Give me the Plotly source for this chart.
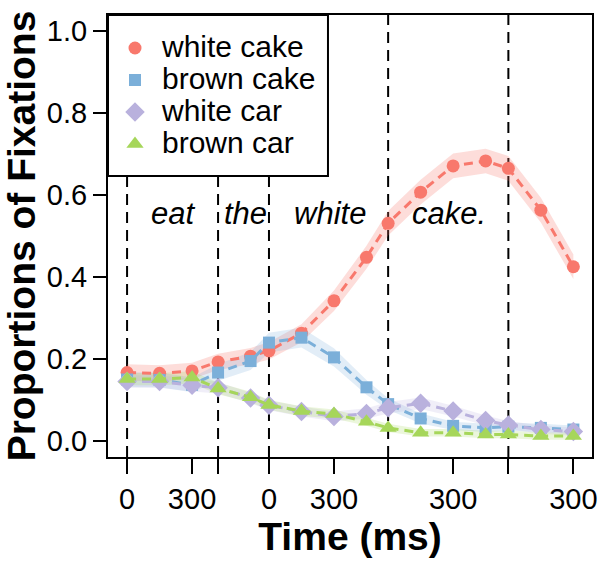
import plotly.graph_objects as go

# ---------------- data ----------------
segment_names = ["eat", "the", "white", "cake", "post"]
segment_starts_ms = [0, 420, 655, 1205, 1760]

point_segment = ["eat", "eat", "eat", "the", "the",
                 "white", "white", "white", "white",
                 "cake", "cake", "cake", "cake",
                 "post", "post", "post"]
point_offset_ms = [0, 150, 300, 0, 150, 0, 150, 300, 450, 0, 150, 300, 450, 0, 150, 300]

white_cake = [0.167, 0.165, 0.171, 0.193, 0.207, 0.220, 0.263, 0.342, 0.448,
              0.531, 0.607, 0.671, 0.683, 0.665, 0.563, 0.425]
brown_cake = [0.150, 0.149, 0.137, 0.167, 0.195, 0.240, 0.252, 0.204, 0.131,
              0.090, 0.055, 0.037, 0.032, 0.035, 0.032, 0.028]
white_car = [0.145, 0.145, 0.136, 0.130, 0.105, 0.087, 0.072, 0.060, 0.067,
             0.081, 0.092, 0.073, 0.050, 0.039, 0.028, 0.023]
brown_car = [0.151, 0.151, 0.155, 0.128, 0.107, 0.088, 0.073, 0.066, 0.047,
             0.032, 0.020, 0.020, 0.016, 0.016, 0.012, 0.012]

white_cake_se = [0.020, 0.020, 0.020, 0.020, 0.020, 0.021, 0.022, 0.025, 0.028,
                 0.030, 0.030, 0.030, 0.030, 0.030, 0.030, 0.030]
brown_cake_se = [0.018, 0.018, 0.018, 0.020, 0.022, 0.024, 0.024, 0.022, 0.018,
                 0.014, 0.012, 0.010, 0.010, 0.010, 0.010, 0.010]
white_car_se = [0.015, 0.015, 0.015, 0.014, 0.013, 0.012, 0.012, 0.012, 0.013,
                0.014, 0.014, 0.013, 0.012, 0.010, 0.010, 0.010]
brown_car_se = [0.015, 0.015, 0.015, 0.014, 0.013, 0.012, 0.012, 0.011, 0.010,
                0.010, 0.009, 0.009, 0.009, 0.009, 0.009, 0.009]

tick_vals_ms = [0, 300, 420, 655, 955, 1205, 1505, 1760, 2060]
tick_text = ["0", "300", "", "0", "300", "", "300", "", "300"]

word_labels = ["eat", "the", "white", "cake."]
word_label_x_ms = [212, 545, 937, 1486]

series_names = ["white cake", "brown cake", "white car", "brown car"]
series_values = [white_cake, brown_cake, white_car, brown_car]
series_se = [white_cake_se, brown_cake_se, white_car_se, brown_car_se]

# ---------------- styles ----------------
colors = ["#F8786C", "#7BAFD9", "#B9B1DD", "#A6D65A"]
fills = ["rgba(248,120,108,0.25)", "rgba(123,175,217,0.22)",
         "rgba(185,177,221,0.22)", "rgba(166,214,90,0.22)"]
symbols = ["circle", "square", "diamond", "triangle-up"]
sizes = [13, 12, 15, 15]
FONT = "Liberation Sans, Arial, Helvetica, sans-serif"

start_of = dict(zip(segment_names, segment_starts_ms))
x = [start_of[s] + o for s, o in zip(point_segment, point_offset_ms)]

fig = go.Figure()

# ribbons
for vals, se, fc in zip(series_values, series_se, fills):
    upper = [v + e for v, e in zip(vals, se)]
    lower = [v - e for v, e in zip(vals, se)]
    fig.add_trace(go.Scatter(
        x=x + x[::-1], y=upper + lower[::-1], mode="lines", fill="toself",
        fillcolor=fc, line=dict(width=0), hoverinfo="skip", showlegend=False))

# lines + markers
for name, vals, c, sym, sz in zip(series_names, series_values, colors, symbols, sizes):
    fig.add_trace(go.Scatter(
        x=x, y=vals, mode="lines", line=dict(color=c, width=3, dash="9px,6px"),
        showlegend=False, hoverinfo="skip"))
    fig.add_trace(go.Scatter(
        x=x, y=vals, mode="markers", name=f'<span style="font-size:30px">{name}</span>',
        marker=dict(color=c, symbol=sym, size=sz, line=dict(width=0))))

# vertical dashed lines at word onsets
for s in segment_starts_ms:
    fig.add_shape(type="line", xref="x", yref="paper", x0=s, x1=s, y0=0, y1=1,
                  line=dict(color="black", width=2, dash="11px,7px"), layer="below")

# legend box
fig.add_shape(type="rect", xref="paper", yref="paper", x0=0, x1=0.4545, y0=0.6357, y1=1,
              line=dict(color="black", width=2), fillcolor="white", layer="below")

for txt, xm in zip(word_labels, word_label_x_ms):
    fig.add_annotation(x=xm, y=0.554, xref="x", yref="y", text=f"<i>{txt}</i>",
                       showarrow=False, font=dict(family=FONT, size=31, color="black"))

fig.update_layout(
    width=604, height=561,
    margin=dict(l=108, r=12, t=15, b=104, autoexpand=False),
    paper_bgcolor="white", plot_bgcolor="white",
    font=dict(family=FONT, color="black"),
    showlegend=True,
    legend=dict(x=0, y=1 - 12 / 442, xanchor="left", yanchor="top",
                bgcolor="rgba(0,0,0,0)", borderwidth=0,
                font=dict(family=FONT, size=22.3, color="black"),
                itemwidth=44, tracegroupgap=0),
    xaxis=dict(range=[-88, 2146], tickvals=tick_vals_ms, ticktext=tick_text,
               showgrid=False, zeroline=False, showline=True, mirror=True,
               linecolor="black", linewidth=2, ticks="outside", ticklen=15,
               tickwidth=2, tickcolor="black", tickfont=dict(size=29), automargin=False,
               title=dict(text="<b>Time (ms)</b>", font=dict(size=39), standoff=0)),
    yaxis=dict(range=[-0.039, 1.039], tickvals=[0, 0.2, 0.4, 0.6, 0.8, 1.0],
               tickformat=".1f", showgrid=False, zeroline=False, showline=True,
               mirror=True, linecolor="black", linewidth=2, ticks="outside",
               ticklen=13, tickwidth=2, tickcolor="black", tickfont=dict(size=29),
               automargin=False,
               title=dict(text="<b>Proportions of Fixations</b>", font=dict(size=39),
                          standoff=10)),
)

fig.write_html("out.html", config={"displayModeBar": False},
               post_script="document.body.style.margin='0';document.body.style.overflow='hidden';")
